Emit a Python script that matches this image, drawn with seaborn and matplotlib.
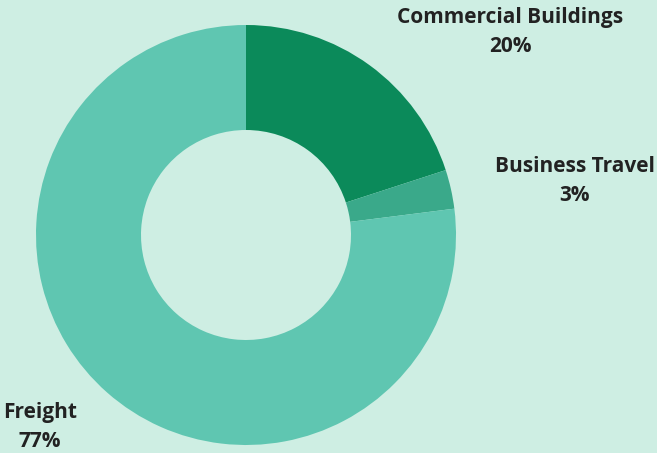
import matplotlib
matplotlib.use("Agg")
import matplotlib.pyplot as plt
import seaborn as sns

categories = ["Commercial Buildings", "Business Travel", "Freight"]
shares = [20, 3, 77]
colors = ["#0b8a5a", "#3aa98a", "#5fc6b1"]

bg = "#ceeee3"
sns.set_theme(style="white")
plt.rcParams["font.family"] = ["Open Sans", "DejaVu Sans"]

W, H = 657, 453
fig = plt.figure(figsize=(W / 100, H / 100), dpi=100, facecolor=bg)
ax = fig.add_axes([0, 0, 1, 1])
ax.set_facecolor(bg)

ax.pie(shares, colors=colors, startangle=90, counterclock=False,
       center=(246, H - 235), radius=210,
       wedgeprops=dict(width=105, linewidth=0))

ax.set_xlim(0, W)
ax.set_ylim(0, H)
ax.set_aspect("equal")
ax.axis("off")

label_pos = [(510, 32), (575, 181), (40, 427)]
for name, val, (x, y) in zip(categories, shares, label_pos):
    ax.text(x, H - y, f"{name}\n{val}%", ha="center", va="center",
            fontsize=15, fontweight="bold", color="#222222",
            linespacing=1.45)

fig.savefig("out.png", dpi=100, facecolor=bg)
